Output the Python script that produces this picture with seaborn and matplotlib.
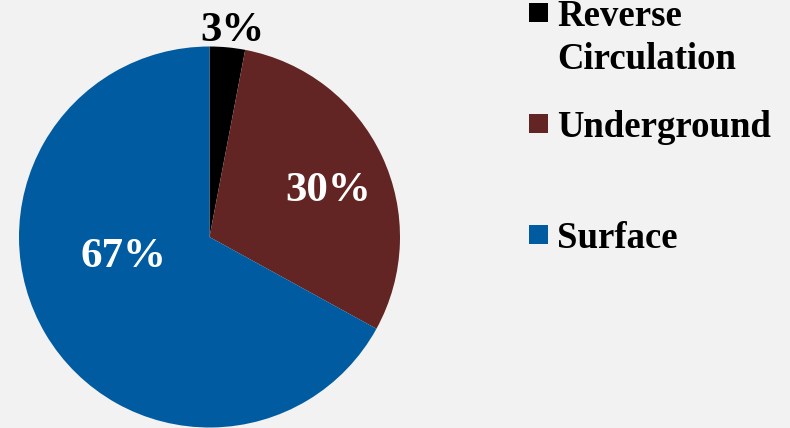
import matplotlib
matplotlib.use("Agg")
import matplotlib.pyplot as plt
from matplotlib.patches import Rectangle
import seaborn as sns

categories = ["Reverse Circulation", "Underground", "Surface"]
legend_lines = [["Reverse", "Circulation"], ["Underground"], ["Surface"]]
values = [3, 30, 67]
pct_labels = ["3%", "30%", "67%"]
colors = ["#000000", "#632523", "#005ba1"]

sns.set_theme(style="white")
plt.rcParams["font.family"] = ["Liberation Serif", "DejaVu Serif"]
bg = "#f2f2f2"

W, H = 790, 428
fig = plt.figure(figsize=(W / 100, H / 100), dpi=100, facecolor=bg)

# pie: centre (209.5, 237), radius 190.5 px
cx, cy, r = 209.5, 237.0, 190.5
ax = fig.add_axes([(cx - r) / W, 1 - (cy + r) / H, 2 * r / W, 2 * r / H])
ax.set_facecolor(bg)
wedges, _ = ax.pie(values, colors=colors, startangle=90, counterclock=False,
                   radius=1.0, wedgeprops=dict(linewidth=0))
ax.set_xlim(-1, 1)
ax.set_ylim(-1, 1)
ax.set_aspect("equal")
ax.axis("off")

# percentage labels (pixel positions: centre x, baseline y)
label_pos = [(232.5, 41), (328, 201), (123, 267)]
label_col = ["black", "white", "white"]
for txt, (px, py), c in zip(pct_labels, label_pos, label_col):
    ax.text((px - cx) / r, (cy - py) / r, txt, ha="center", va="baseline",
            fontsize=31, fontweight="bold", color=c, clip_on=False)

# legend drawn manually
sq = 19
marker_y = [12.5, 123.5, 234.5]
first_baseline = [26, 137, 248]
line_gap = 43
for lines, col, my, by in zip(legend_lines, colors, marker_y, first_baseline):
    fig.patches.append(Rectangle(((529) / W, 1 - (my + sq / 2) / H), sq / W, sq / H,
                                 transform=fig.transFigure, facecolor=col,
                                 edgecolor="none"))
    for i, ln in enumerate(lines):
        fig.text(557 / W, 1 - (by + i * line_gap) / H, ln, ha="left", va="baseline",
                 fontsize=26.5, fontweight="bold", color="black")

fig.savefig("out.png", dpi=100, facecolor=bg)
